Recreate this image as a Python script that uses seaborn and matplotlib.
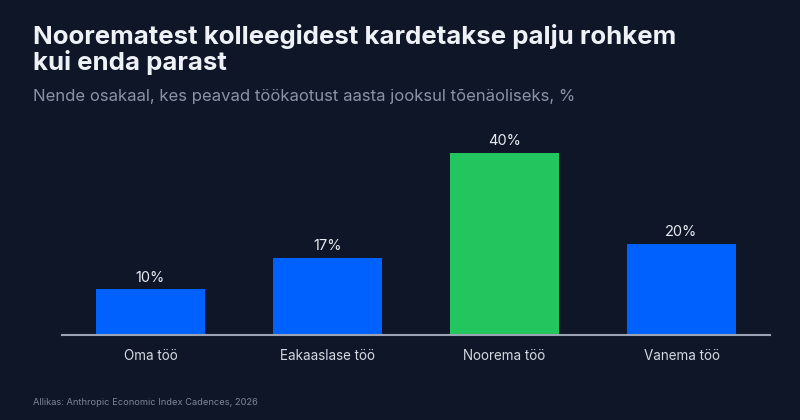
import matplotlib.pyplot as plt
import seaborn as sns
import pandas as pd

categories = ["Oma töö", "Eakaaslase töö", "Noorema töö", "Vanema töö"]
values = [10, 17, 40, 20]
labels = ["10%", "17%", "40%", "20%"]

BG = "#0f1628"
BLUE = "#0061fe"
GREEN = "#22c55e"

sns.set_theme(style="dark")
plt.rcParams["font.family"] = ["Inter", "DejaVu Sans"]

df = pd.DataFrame({"cat": categories, "val": values})
colors = [GREEN if v == max(values) else BLUE for v in values]

fig = plt.figure(figsize=(8, 4.2), dpi=100, facecolor=BG)
ax = fig.add_axes([62 / 800, 85 / 420, 708 / 800, 205 / 420])
ax.set_facecolor(BG)

sns.barplot(data=df, x="cat", y="val", hue="cat", palette=colors,
            legend=False, width=0.62, saturation=1, linewidth=0, ax=ax)

ax.set_xlim(-0.5, 3.5)
ax.set_ylim(0, 45.05)
for i, (v, lab) in enumerate(zip(values, labels)):
    ax.text(i, v + 1.0, lab, ha="center", va="bottom",
            color="#e8ebf0", fontsize=10.5)

for s in ["top", "right", "left"]:
    ax.spines[s].set_visible(False)
ax.spines["bottom"].set_color("#9aa3b2")
ax.spines["bottom"].set_linewidth(1.5)
ax.set_yticks([])
ax.set_xlabel("")
ax.set_ylabel("")
ax.tick_params(axis="x", length=0, pad=10, colors="#d4d8e0", labelsize=9.7)
ax.grid(False)

title_lines = ["Noorematest kolleegidest kardetakse palju rohkem", "kui enda parast"]
for k, line in enumerate(title_lines):
    fig.text(33 / 800, 1 - (44 + 26 * k) / 420, line,
             color="#eef1f6", fontsize=18.6, fontweight="bold", va="baseline")
fig.text(33 / 800, 1 - 101 / 420,
         "Nende osakaal, kes peavad töökaotust aasta jooksul tõenäoliseks, %",
         color="#8a93a6", fontsize=12, va="baseline")
fig.text(33 / 800, 1 - 405 / 420, "Allikas: Anthropic Economic Index Cadences, 2026",
         color="#7d8597", fontsize=6.7, va="baseline")

fig.savefig("out.png", dpi=100, facecolor=BG)
